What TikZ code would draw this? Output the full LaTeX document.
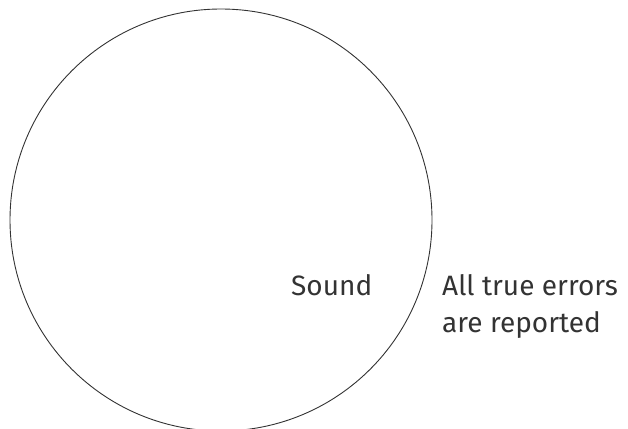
\documentclass[tikz,border=0pt]{standalone}
\usepackage{fontspec}
\setmainfont{Fira Sans}
\begin{document}
\begin{tikzpicture}[x=1pt,y=-1pt,
  lbl/.style={font=\fontsize{28}{37}\selectfont, text=black!80, inner sep=0pt, anchor=base west}]
\clip (0,0) rectangle (628,428);
\useasboundingbox (0,0) rectangle (628,428);
\node[circle, draw=black!80, line width=0.9pt, minimum size=422pt, inner sep=0pt] (sound) at (221,220) {};
\node[lbl] (soundlbl) at (291,295) {Sound};
\node[lbl] (l1) at (442,295) {All true errors};
\node[lbl] (l2) at (442,332) {are reported};
\end{tikzpicture}
\end{document}
